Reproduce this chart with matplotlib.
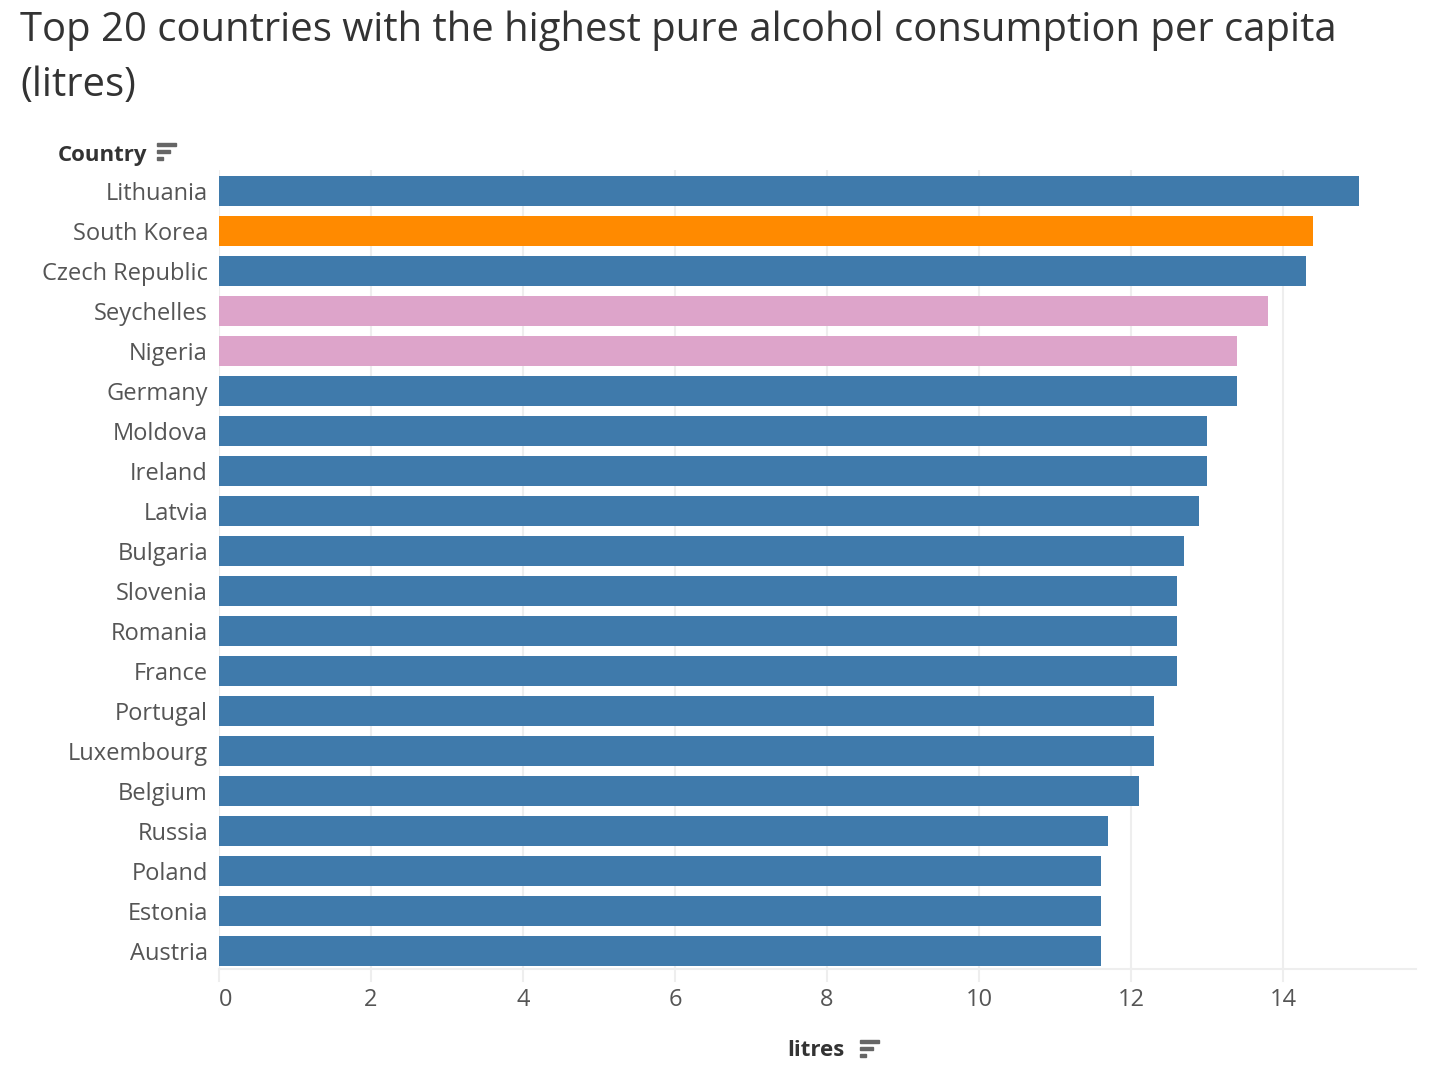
import matplotlib.pyplot as plt
from matplotlib.patches import Rectangle

plt.rcParams['font.family'] = ['Open Sans', 'DejaVu Sans']

countries = ["Lithuania", "South Korea", "Czech Republic", "Seychelles", "Nigeria",
             "Germany", "Moldova", "Ireland", "Latvia", "Bulgaria", "Slovenia",
             "Romania", "France", "Portugal", "Luxembourg", "Belgium", "Russia",
             "Poland", "Estonia", "Austria"]
litres = [15.0, 14.4, 14.3, 13.8, 13.4, 13.4, 13.0, 13.0, 12.9, 12.7, 12.6,
          12.6, 12.6, 12.3, 12.3, 12.1, 11.7, 11.6, 11.6, 11.6]
groups = ["other", "korea", "other", "africa", "africa"] + ["other"] * 15

colors = {"other": "#3f7aab", "korea": "#ff8a00", "africa": "#dda4ca"}

fig = plt.figure(figsize=(14.32, 10.70), dpi=100)
ax = fig.add_axes([219/1432, 1-969/1070, (1416-219)/1432, (969-170)/1070])

ypos = list(range(len(countries)))
ax.barh(ypos, litres, height=0.75, color=[colors[g] for g in groups], zorder=3)
ax.set_ylim(len(countries) - 0.55, -0.525)
ax.set_xlim(0, 15.75)
ax.set_yticks(ypos)
ax.set_yticklabels(countries)
ax.set_xticks(range(0, 16, 2))
ax.tick_params(axis='y', length=0, pad=8, labelsize=17, labelcolor="#555555")
ax.tick_params(axis='x', length=0, pad=14, labelsize=17, labelcolor="#555555")
ax.get_xticklabels()[0].set_horizontalalignment("left")

ax.grid(axis='x', color="#eeeeee", linewidth=1.5, zorder=0)
for s in ["top", "right", "left"]:
    ax.spines[s].set_visible(False)
ax.spines["bottom"].set_color("#eeeeee")
ax.spines["bottom"].set_linewidth(1.5)

# little tick stubs below axis
for t in range(0, 16, 2):
    ax.plot([t, t], [len(countries) - 0.55, len(countries) - 0.25], color="#eeeeee",
            lw=1.5, clip_on=False, zorder=0)

fig.text(20/1432, 1-31/1070, "Top 20 countries with the highest pure alcohol consumption per capita",
         fontsize=28.8, color="#333333", va="center", ha="left")
fig.text(20/1432, 1-86/1070, "(litres)", fontsize=28.8, color="#333333", va="center",
         ha="left")

fig.text(58/1432, 1-155/1070, "Country", fontsize=16, fontweight="bold",
         color="#333333", va="center", ha="left")
fig.text(787/1432, 1-1051/1070, "litres", fontsize=16, fontweight="bold",
         color="#333333", va="center", ha="left")


def sort_icon(x0, y0):
    # three bars, shrinking width
    for i, w in enumerate([19, 13, 6]):
        fig.patches.append(Rectangle((x0/1432, 1-(y0 + i*7 + 3)/1070), w/1432, 3/1070,
                                     transform=fig.transFigure, color="#666666"))


sort_icon(157, 143)
sort_icon(860, 1040)

fig.savefig("out.png", dpi=100)
